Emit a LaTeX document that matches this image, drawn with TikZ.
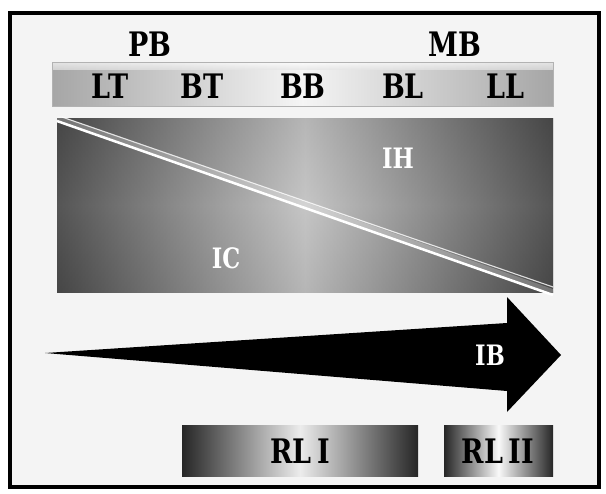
\documentclass[tikz,border=0pt]{standalone}
\usepackage{fontspec}
\setmainfont{DejaVu Serif}[FakeStretch=0.8]
\usepackage{xcolor}
\usetikzlibrary{arrows.meta, positioning, calc}

\definecolor{paper}{HTML}{F4F4F4}
\tikzset{
  lbl/.style={font=\bfseries\fontsize{24}{28}\selectfont, text=black},
  wlbl/.style={font=\bfseries\fontsize{20}{24}\selectfont, text=white},
}

\begin{document}
\begin{tikzpicture}[x=0.025cm, y=-0.025cm]
    \useasboundingbox (0,0) rectangle (606,494);
    % Rahmen
    \draw[line width=3pt, fill=paper] (10,13) rectangle (599,487);

    % obere Leiste
    \shade[left color=gray!70, right color=gray!70, middle color=gray!8] (52,62) rectangle (553,106);
    \shade[top color=white, bottom color=gray!20, opacity=0.7] (52,62) rectangle (553,69);
    \draw[gray!60, thin] (52,62) rectangle (553,106);
    \node[lbl] (PB) at (150,44) {PB};
    \node[lbl] (MB) at (455,44) {MB};
    \node[lbl] (LT) at (110,86) {LT};
    \node[lbl] (BT) at (202,86) {BT};
    \node[lbl] (BB) at (303,86) {BB};
    \node[lbl] (BL) at (403,86) {BL};
    \node[lbl] (LL) at (505,86) {LL};

    % Rechteck mit Diagonale
    \shade[left color=black!90, right color=black!90, middle color=gray!45] (57,118) rectangle (553,292);
    \shade[top color=black!40, bottom color=black!40, middle color=gray!45, opacity=0.35] (57,118) rectangle (553,292);
    \draw[white, line width=4pt, opacity=0.25] (57,118) -- (553,292);
    \draw[white, line width=1.8pt] (57,121) -- (553,295);
    \draw[white, line width=0.8pt, opacity=0.8] (62,117) -- (553,287);
    \node[wlbl] (IH) at (398,158) {IH};
    \node[wlbl] (IC) at (226,258) {IC};

    % Pfeil
    \fill[black] (45,353) -- (507,323) -- (507,297) -- (561,355) -- (507,412) -- (507,391) -- cycle;
    \node[wlbl] (IB) at (490,355) {IB};

    % untere Kaesten
    \shade[left color=black!85, right color=black!85, middle color=gray!15] (182,425) rectangle (418,476);
    \shade[left color=black!85, right color=black!85, middle color=gray!5] (444,425) rectangle (553,476);
    \node[lbl] (RL1) at (300,451) {RL\,I};
    \node[lbl] (RL2) at (498,451) {RL\,II};
\end{tikzpicture}
\end{document}
